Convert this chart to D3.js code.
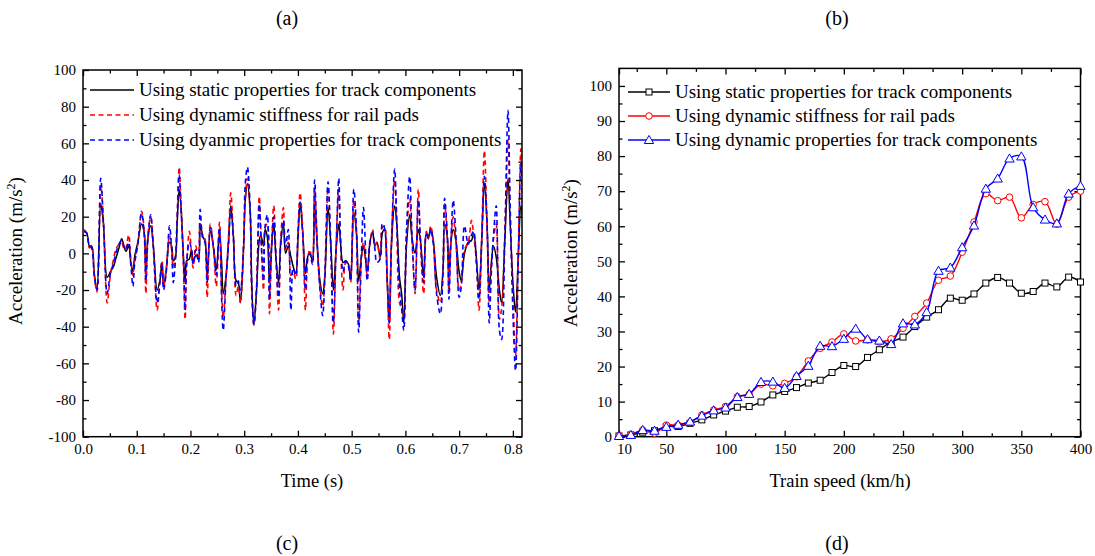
<!DOCTYPE html>
<html><head><meta charset="utf-8">
<script src="https://cdn.jsdelivr.net/npm/d3@7"></script>
<style>
body{margin:0;background:#fff}
svg{display:block}
svg text{font-family:"Liberation Serif","Tinos","Times New Roman","DejaVu Serif",serif !important;fill:#000}
</style>
</head><body>
<svg id="c" width="1095" height="556"></svg>
<script>
const FONT = '"Liberation Serif","Tinos","Times New Roman","DejaVu Serif",serif';
// ---------- Panel (c): time history ----------
const timeS = [0.002,0.007,0.012,0.016,0.021,0.026,0.033,0.038,0.045,0.051,0.057,0.061,0.067,0.072,0.077,0.080,0.085,0.089,0.093,0.096,0.102,0.109,0.114,0.117,0.121,0.126,0.131,0.138,0.143,0.147,0.150,0.155,0.161,0.165,0.168,0.172,0.175,0.179,0.182,0.187,0.190,0.193,0.198,0.202,0.205,0.210,0.215,0.218,0.223,0.227,0.231,0.237,0.243,0.248,0.254,0.258,0.261,0.266,0.271,0.275,0.280,0.285,0.289,0.293,0.299,0.302,0.306,0.311,0.314,0.318,0.323,0.328,0.331,0.336,0.339,0.343,0.347,0.351,0.355,0.359,0.364,0.368,0.373,0.377,0.382,0.387,0.391,0.396,0.400,0.404,0.409,0.414,0.418,0.422,0.427,0.431,0.436,0.441,0.446,0.450,0.456,0.461,0.466,0.471,0.476,0.479,0.484,0.489,0.494,0.498,0.504,0.509,0.513,0.518,0.522,0.529,0.534,0.539,0.543,0.547,0.553,0.557,0.561,0.566,0.570,0.574,0.580,0.584,0.589,0.593,0.597,0.602,0.608,0.612,0.618,0.624,0.628,0.634,0.639,0.643,0.647,0.652,0.658,0.665,0.670,0.673,0.678,0.681,0.685,0.689,0.694,0.700,0.704,0.710,0.717,0.723,0.727,0.732,0.737,0.742,0.747,0.752,0.756,0.760,0.764,0.769,0.775,0.779,0.785,0.791,0.795,0.801,0.805,0.810,0.815,0.819,0.824,0.829];
const staticAcc = [12,11,4,4,-11,-20,27,16,-13,-10,-7,-3,3,8,3,1,4,-5,-10,-2,6,16,11,-10,9,15,4,-20,-15,-5,-18,-9,6,4,-4,-2,15,35,27,-2,-16,-4,-3,2,-5,-1,-2,16,9,7,-12,12,3,-9,11,-5,-22,-13,7,26,9,-15,-16,-27,4,29,38,24,-16,-39,-20,7,10,4,13,9,-16,4,16,-2,-16,6,16,0,4,-2,-7,-11,7,27,11,-11,-2,0,-4,27,4,-15,-22,-13,25,6,-20,2,16,7,-5,-4,-6,-14,22,11,-15,-2,4,-9,6,12,4,6,-2,11,13,-13,-38,4,26,16,-13,-22,-38,4,21,9,0,13,7,-13,11,9,14,7,-13,-23,-9,16,9,-10,7,13,7,-10,-15,0,6,7,11,-2,-20,7,38,16,-20,-5,4,-2,-20,-27,7,41,16,-20,-32,-2,26,16,-12,-5];
const padAcc = [13,11,3,4,-12,-21,37,18,-27,-12,-3,2,5,6,2,3,10,-3,-12,-4,5,23,12,-22,10,20,2,-31,-15,-4,-18,-8,10,2,-8,-2,18,47,30,-8,-36,-6,12,0,-8,4,-4,16,10,8,-24,16,2,-18,17,-20,-35,-14,10,33,8,-23,-18,-27,4,30,41,22,-20,-39,-18,31,12,-20,14,16,-33,5,26,0,-31,8,25,2,6,-12,-10,-14,10,33,12,-31,-4,2,-5,35,4,-18,-29,-12,36,6,-44,4,35,8,-20,-5,-6,-16,29,10,-38,-3,6,-12,5,13,4,6,-3,14,15,-15,-47,6,40,15,-27,-30,-35,10,30,10,-22,35,6,-22,12,8,15,6,-20,-27,-8,27,8,-20,8,20,6,-20,-16,2,6,18,10,-4,-31,8,56,14,-27,-6,8,16,-36,-30,10,62,20,-30,-56,0,57,15,-45,-10];
const dynAcc = [12,11,4,3,-12,-20,41,17,-22,-11,-5,0,5,7,3,2,6,-6,-18,-6,5,22,10,-15,9,21,3,-27,-16,-5,-20,-10,15,2,-16,-4,16,43,28,-5,-31,-5,6,2,-6,2,-5,24,8,6,-16,14,3,-12,14,-25,-42,-15,6,25,8,-18,-15,-20,6,38,47,25,-18,-39,-20,27,10,-15,15,21,-25,3,20,-2,-24,5,18,3,13,-31,-8,-12,11,28,10,-20,-3,0,-6,40,5,-20,-34,-14,39,5,-38,2,41,10,-10,-4,-7,-15,35,12,-43,-2,25,-15,6,11,3,-5,-3,16,14,-14,-38,5,46,17,-20,-30,-42,12,42,12,-20,29,8,-16,10,8,13,5,-22,-33,-10,30,10,-25,8,29,10,-24,-18,15,5,10,12,-5,-25,6,42,16,-38,-10,10,26,-42,-47,8,78,25,-40,-64,-5,49,20,-40,-8];
const timeTicks = [0,0.1,0.2,0.3,0.4,0.5,0.6,0.7,0.8];
const accTicksC = [-100,-80,-60,-40,-20,0,20,40,60,80,100];
const legendC = ["Using static properties for track components","Using dynamic stiffness for rail pads","Using dyanmic properties for track components"];

// ---------- Panel (d): speed sweep ----------
const speeds = [10,20,30,40,50,60,70,80,90,100,110,120,130,140,150,160,170,180,190,200,210,220,230,240,250,260,270,280,290,300,310,320,330,340,350,360,370,380,390,400];
const speedStatic = [0.2,0.5,1.3,1.7,2.9,2.9,3.8,4.8,6.2,7.3,8.4,8.6,9.9,11.9,12.9,14.0,15.3,16.1,18.3,20.3,20.0,22.6,24.8,27.0,28.4,31.4,34.1,36.2,39.5,38.9,40.7,43.8,45.4,43.8,40.9,41.4,43.8,42.7,45.5,44.1];
const speedPad = [0.3,0.6,1.9,1.0,3.3,3.3,4.0,6.2,7.6,8.6,11.4,12.1,15.0,14.5,15.2,17.1,21.6,25.2,27.0,29.3,27.3,27.6,27.0,27.9,30.9,34.3,38.1,44.6,45.8,52.6,61.2,69.3,67.3,68.3,62.4,66.2,67.0,60.6,68.3,70.0];
const speedDyn = [0.2,0.5,1.9,1.7,2.8,3.4,4.3,6.0,7.5,8.3,11.3,12.2,15.6,15.7,13.9,17.3,20.2,25.9,25.8,27.9,30.8,27.8,27.4,26.4,32.3,32.0,35.5,47.3,48.2,54.0,60.2,70.7,73.6,79.3,79.9,65.4,61.9,60.8,69.3,71.5];
const speedTicks = [10,50,100,150,200,250,300,350,400];
const accTicksD = [0,10,20,30,40,50,60,70,80,90,100];
const legendD = ["Using static properties for track components","Using dynamic stiffness for rail pads","Using dynamic properties for track components"];

const panelLabels = ["(a)","(b)","(c)","(d)"];

const svg = d3.select("#c");

function frameAxes(g, x, y, xMajor, xMinor, yMajor, yMinor, xFmt, yFmt) {
  const mk = (axis, tr) => g.append("g").attr("transform", tr).call(axis).call(s => s.select(".domain").remove());
  const [x0, x1] = x.range(), [y0, y1] = y.range();
  const bottom = mk(d3.axisBottom(x).tickValues(xMajor).tickSize(-6).tickPadding(7).tickFormat(xFmt), `translate(0,${y0})`);
  mk(d3.axisBottom(x).tickValues(xMinor).tickSize(-3.5).tickFormat(""), `translate(0,${y0})`);
  mk(d3.axisTop(x).tickValues(xMajor).tickSize(-6).tickFormat(""), `translate(0,${y1})`);
  mk(d3.axisTop(x).tickValues(xMinor).tickSize(-3.5).tickFormat(""), `translate(0,${y1})`);
  mk(d3.axisLeft(y).tickValues(yMajor).tickSize(-6).tickPadding(7).tickFormat(yFmt), `translate(${x0},0)`);
  mk(d3.axisLeft(y).tickValues(yMinor).tickSize(-3.5).tickFormat(""), `translate(${x0},0)`);
  mk(d3.axisRight(y).tickValues(yMajor).tickSize(-6).tickFormat(""), `translate(${x1},0)`);
  mk(d3.axisRight(y).tickValues(yMinor).tickSize(-3.5).tickFormat(""), `translate(${x1},0)`);
  g.selectAll("g").attr("font-family", FONT);
  g.selectAll(".tick line").attr("stroke", "#000").attr("stroke-width", 1.3);
  g.selectAll(".tick text").attr("font-size", 15).style("font-family", FONT).attr("fill", "#000");
  g.append("rect").attr("x", x0).attr("y", y1).attr("width", x1 - x0).attr("height", y0 - y1)
    .attr("fill", "none").attr("stroke", "#000").attr("stroke-width", 1.5);
  return bottom;
}

function addText(g, x, y, size, txt, anchor) {
  return g.append("text").attr("x", x).attr("y", y).attr("font-size", size)
    .attr("text-anchor", anchor || "start").style("font-family", FONT).text(txt);
}

function accLabel(g, x, y) {
  const t = g.append("text").attr("transform", `translate(${x},${y}) rotate(-90)`)
    .attr("text-anchor", "middle").attr("font-size", 19).style("font-family", FONT);
  t.append("tspan").text("Acceleration (m/s");
  t.append("tspan").attr("dy", -7).attr("font-size", 12).text("2");
  t.append("tspan").attr("dy", 7).text(")");
}

// ================= Panel (c) =================
const xC = d3.scaleLinear().domain([0, 0.817]).range([83, 522]);
const yC = d3.scaleLinear().domain([-100, 100]).range([436.7, 70]);
const gC = svg.append("g");
svg.append("defs").append("clipPath").attr("id", "clipC").append("rect")
  .attr("x", 83).attr("y", 70).attr("width", 439).attr("height", 366.7);

const lineC = vals => d3.line().x((d, i) => xC(timeS[i])).y(d => yC(d)).curve(d3.curveCatmullRom.alpha(0.5))(vals);
const plotC = gC.append("g").attr("clip-path", "url(#clipC)");
plotC.append("path").attr("d", lineC(staticAcc)).attr("fill", "none").attr("stroke", "#000").attr("stroke-width", 1.5);
plotC.append("path").attr("d", lineC(padAcc)).attr("fill", "none").attr("stroke", "#ff0000").attr("stroke-width", 1.6).attr("stroke-dasharray", "5,3.5");
plotC.append("path").attr("d", lineC(dynAcc)).attr("fill", "none").attr("stroke", "#0000ff").attr("stroke-width", 1.6).attr("stroke-dasharray", "5,3.5");

const minorT = [0.05,0.15,0.25,0.35,0.45,0.55,0.65,0.75];
const minorA = [-90,-70,-50,-30,-10,10,30,50,70,90];
frameAxes(gC, xC, yC, timeTicks, minorT, accTicksC, minorA, d3.format(".1f"), d => String(d));

const legStylesC = [{c:"#000",d:null},{c:"#ff0000",d:"5,3.5"},{c:"#0000ff",d:"5,3.5"}];
legendC.forEach((txt, i) => {
  const yy = 90 + i * 25;
  const l = gC.append("line").attr("x1", 90).attr("x2", 134).attr("y1", yy).attr("y2", yy)
    .attr("stroke", legStylesC[i].c).attr("stroke-width", 1.6);
  if (legStylesC[i].d) l.attr("stroke-dasharray", legStylesC[i].d);
  addText(gC, 139, yy + 6, 19, txt);
});

accLabel(gC, 22, 251);
addText(gC, 312, 487, 18.5, "Time (s)", "middle");

// ================= Panel (d) =================
const xD = d3.scaleLinear().domain([10, 400]).range([619, 1080.5]);
const yD = d3.scaleLinear().domain([0, 105]).range([436.7, 68.4]);
const gD = svg.append("g");
const lineD = vals => d3.line().x((d, i) => xD(speeds[i])).y(d => yD(d)).curve(d3.curveCatmullRom.alpha(0.5))(vals);

const minorS = [25,75,125,175,225,275,325,375];
const minorD = [5,15,25,35,45,55,65,75,85,95];
const bottomD = frameAxes(gD, xD, yD, speedTicks, minorS, accTicksD, minorD, d => String(d), d => String(d));
bottomD.selectAll(".tick text").filter(d => d === 10).attr("dx", 5);

const seriesD = [
  {v: speedStatic, c: "#000", m: "square"},
  {v: speedPad, c: "#ff0000", m: "circle"},
  {v: speedDyn, c: "#0000ff", m: "triangle"}
];
function marker(g, type, cx, cy, color) {
  if (type === "square") {
    g.append("rect").attr("x", cx - 3).attr("y", cy - 3).attr("width", 6).attr("height", 6)
      .attr("fill", "#fff").attr("stroke", color).attr("stroke-width", 1);
  } else if (type === "circle") {
    g.append("circle").attr("cx", cx).attr("cy", cy).attr("r", 3.3)
      .attr("fill", "#fff").attr("stroke", color).attr("stroke-width", 1);
  } else {
    g.append("path").attr("d", d3.symbol(d3.symbolTriangle, 38)()).attr("transform", `translate(${cx},${cy + 0.8})`)
      .attr("fill", "#fff").attr("stroke", color).attr("stroke-width", 1);
  }
}
seriesD.forEach(s => {
  gD.append("path").attr("d", lineD(s.v)).attr("fill", "none").attr("stroke", s.c).attr("stroke-width", 1.4);
  s.v.forEach((val, i) => marker(gD, s.m, xD(speeds[i]), yD(val), s.c));
});

legendD.forEach((txt, i) => {
  const yy = 92 + i * 24;
  gD.append("line").attr("x1", 628).attr("x2", 670).attr("y1", yy).attr("y2", yy)
    .attr("stroke", seriesD[i].c).attr("stroke-width", 1.4);
  marker(gD, seriesD[i].m, 649, yy, seriesD[i].c);
  addText(gD, 675, yy + 6, 19, txt);
});

accLabel(gD, 577, 253);
addText(gD, 840, 487, 18.5, "Train speed (km/h)", "middle");

const letterPos = [[287, 25], [837, 25], [287, 550], [837, 550]];
panelLabels.forEach((t, i) => addText(svg, letterPos[i][0], letterPos[i][1], 20, t, "middle"));
</script>
</body></html>
